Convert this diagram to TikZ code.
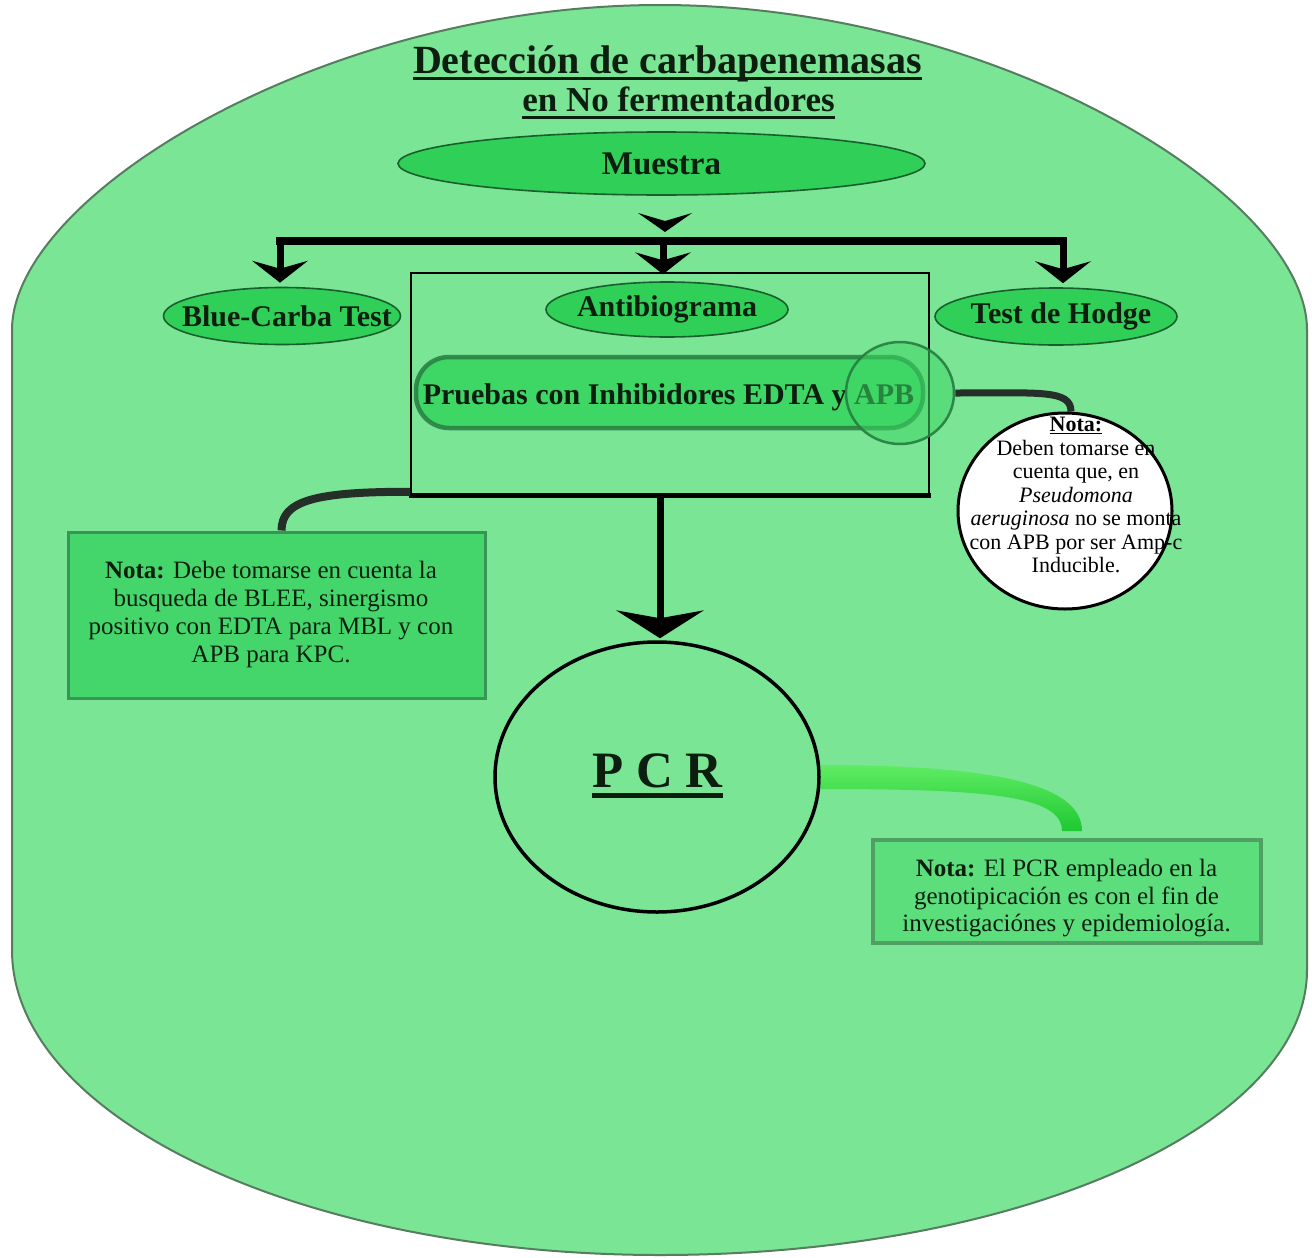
\documentclass[tikz,border=0pt]{standalone}
\usepackage{fontspec}
\setmainfont{Liberation Serif}
\usetikzlibrary{arrows.meta,shapes.geometric}
\definecolor{bg}{RGB}{122,229,148}
\definecolor{bgline}{RGB}{85,125,95}
\definecolor{ellfill}{RGB}{48,208,88}
\definecolor{ellline}{RGB}{25,95,45}
\definecolor{notefill}{RGB}{68,214,106}
\definecolor{noteline}{RGB}{55,150,85}
\definecolor{notethreefill}{RGB}{92,222,124}
\definecolor{notethreeline}{RGB}{80,160,100}
\definecolor{prfill}{RGB}{62,214,100}
\definecolor{prline}{RGB}{38,125,65}
\definecolor{txt}{RGB}{12,30,16}
\definecolor{conn}{RGB}{38,46,42}
\definecolor{gtop}{RGB}{95,236,100}
\definecolor{gbot}{RGB}{30,200,50}
\newcommand\mkzw[1]{\makebox[0pt][c]{#1}}
\begin{document}
\begin{tikzpicture}[x=1pt,y=-1pt,
  oval/.style={ellipse,draw=ellline,line width=1.6pt,fill=ellfill,inner sep=0pt,text=txt,font=\fontsize{30}{34}\selectfont\bfseries},
  arr/.style={draw=black,line width=7pt,-{Stealth[length=22pt,width=56pt,inset=8pt,line width=0pt]}},
  bigarr/.style={draw=black,line width=7pt,-{Stealth[length=28pt,width=88pt,inset=8pt,line width=0pt]}},
  notetxt/.style={align=center,text=txt,inner sep=0pt},
  connline/.style={draw=conn,line cap=butt},
  notebox/.style={rectangle,inner sep=0pt}
]
\fill[white] (0,0) rectangle (1312,1258);
\useasboundingbox (0,0) rectangle (1312,1258);
% outer shape
\filldraw[fill=bg,draw=bgline,line width=2pt]
  (12,330) .. controls (12,195) and (325,5) .. (660,5)
  .. controls (995,5) and (1307,195) .. (1307,330)
  -- (1307,970) .. controls (1307,1127) and (1018,1255) .. (660,1255)
  .. controls (302,1255) and (12,1118) .. (12,950) -- cycle;
% title
\node[anchor=base,inner sep=0pt,text=txt,font=\fontsize{40}{44}\selectfont\bfseries] (t1) at (667.5,73) {Detección de carbapenemasas};
\draw[line width=3pt,txt] ([yshift=-5pt]t1.base west) -- ([yshift=-5pt]t1.base east);
\node[anchor=base,inner sep=0pt,text=txt,font=\fontsize{35}{39}\selectfont\bfseries] (t2) at (678.5,111) {en No fermentadores};
\draw[line width=3pt,txt] ([yshift=-6pt]t2.base west) -- ([yshift=-6pt]t2.base east);
% Muestra
\node[oval,minimum width=527pt,minimum height=63pt,font=\fontsize{33}{36}\selectfont\bfseries] (mu) at (661.5,163.5) {\mkzw{Muestra}};
\coordinate (chev) at (665,232);
\fill[black] ([shift={(-27,-19)}]chev) -- ([shift={(0,-11)}]chev) -- ([shift={(27,-19)}]chev) -- (chev) -- cycle;
% distribution bar
\coordinate (bl) at (280,241);
\coordinate (bm) at (663,241);
\coordinate (br) at (1063,241);
\draw[line width=8pt,line cap=rect] (bl) -- (br);
% container
\node[draw=black,line width=1.5pt,minimum width=518pt,minimum height=222pt,inner sep=0pt] (box) at (670,384) {};
\draw[line width=5pt] ([xshift=-1pt]box.south west) -- ([xshift=1pt]box.south east);
% ellipses
\node[oval,minimum width=237pt,minimum height=57pt] (blue) at (282,316) {\mkzw{\hspace{10pt}Blue-Carba Test}};
\node[oval,minimum width=242pt,minimum height=55pt] (anti) at (667,309.5) {\mkzw{Antibiograma}};
\node[oval,minimum width=242pt,minimum height=57pt] (hodge) at (1056,316.5) {\mkzw{\hspace{10pt}Test de Hodge}};
\draw[arr,shorten >=4pt] (bl) -- (bl |- blue.north);
\draw[arr,shorten >=-2pt] (bm) -- (bm |- box.north);
\draw[arr,shorten >=4pt] (br) -- (br |- hodge.north);
% Pruebas
\node[draw=prline,draw opacity=.85,line width=4.5pt,fill=prfill,rounded corners=33pt,minimum width=507pt,minimum height=71pt,inner sep=0pt] (pr) at (669.5,392.5) {};
\node[anchor=base,inner sep=0pt,text=txt,font=\fontsize{30}{34}\selectfont\bfseries] (prt) at (668.5,404) {Pruebas con Inhibidores EDTA y APB};
\node[ellipse,draw=prline,line width=2.5pt,fill=prfill,fill opacity=.55,draw opacity=.9,minimum width=108pt,minimum height=102pt,inner sep=0pt] (apb) at (900,393) {};
% notes
\node[notebox,draw=noteline,line width=3pt,fill=notefill,minimum width=417pt,minimum height=166pt] (n1) at (276.5,615) {};
\node[notetxt,font=\fontsize{25}{28}\selectfont] (n1t) at (271,614) {\textbf{Nota:} Debe tomarse en cuenta la\\busqueda de BLEE, sinergismo\\positivo con EDTA para MBL y con\\APB para KPC.};
\draw[connline,line width=8pt] ([yshift=4pt]box.south west) .. controls +(-95,0) and +(0,-30) .. ([xshift=5pt]n1.north);
\node[ellipse,draw=black,line width=3pt,fill=white,minimum width=214pt,minimum height=196pt,inner sep=0pt] (n2) at (1065,511) {};
\draw[connline,line width=7pt] (apb.east) .. controls +(85,0) and +(0,-22) .. ([xshift=6pt]n2.north);
\node[notetxt,text=black,font=\fontsize{22}{23.5}\selectfont] (n2t) at (1076,495) {\underline{\textbf{Nota:}}\\Deben tomarse en\\cuenta que, en\\\textit{Pseudomona}\\\textit{aeruginosa} no se monta\\con APB por ser Amp-c\\Inducible.};
% PCR
\node[ellipse,draw=black,line width=3.5pt,minimum width=324pt,minimum height=270pt,inner sep=0pt] (pcr) at (657,777) {};
\node[anchor=base,inner sep=0pt,text=txt,font=\fontsize{51}{55}\selectfont\bfseries] (pcrt) at (657.5,787) {P C R};
\draw[line width=5pt,txt] ([yshift=-8pt]pcrt.base west) -- ([yshift=-8pt]pcrt.base east);
\coordinate (dn) at (660,495);
\draw[bigarr,shorten >=2pt] (dn) -- (dn |- pcr.north);
\node[notebox,draw=notethreeline,line width=4pt,fill=notethreefill,minimum width=388pt,minimum height=103pt] (n3) at (1067,891.5) {};
\node[notetxt,font=\fontsize{25}{27.5}\selectfont] (n3t) at (1066.5,898.5) {\textbf{Nota:} El PCR empleado en la\\genotipicación es con el fin de\\investigaciónes y epidemiología.};
\shade[top color=gtop,bottom color=gbot]
  ([yshift=12pt]pcr.east) .. controls +(180,0) and +(0,-45) .. ([shift={(15pt,7pt)}]n3.north)
  -- ([shift={(-5pt,7pt)}]n3.north) .. controls +(0,-35) and +(170,0) .. ([yshift=-12pt]pcr.east) -- cycle;
\end{tikzpicture}
\end{document}
